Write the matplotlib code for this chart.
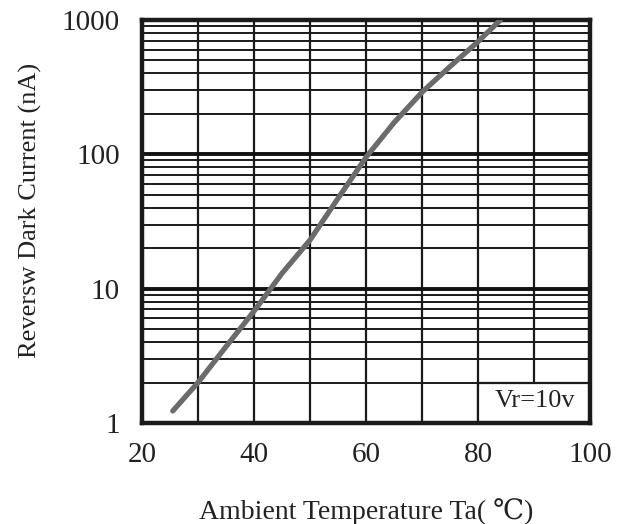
import matplotlib
matplotlib.use('Agg')
from matplotlib import pyplot as plt
from matplotlib.patches import Rectangle

# curve
temp = [25.5, 30, 35, 40, 45, 50, 55, 60, 65, 70, 75, 80, 84]
dark_current = [1.23, 2.0, 3.7, 6.8, 13, 23, 47, 95, 172, 290, 450, 690, 1000]

x_ticks = [20, 40, 60, 80, 100]
y_ticks = [1, 10, 100, 1000]
y_labels = ['1', '10', '100', '1000']

serif = ['Liberation Serif', 'DejaVu Serif', 'Noto Sans CJK SC']
plt.rcParams['font.family'] = serif

fig = plt.figure(figsize=(6.17, 5.24), dpi=100)
ax = fig.add_axes([0.2301, 0.1927, 0.7261, 0.7691])
ax.set_yscale('log')
ax.set_xlim(20, 100)
ax.set_ylim(1, 1000)

# grid: every 10 degC, every 1..9 per decade
for xv in range(30, 100, 10):
    if xv == 90:
        ax.plot([xv, xv], [2, 1000], color='#1a1a1a', lw=1.6, zorder=1)
    else:
        ax.plot([xv, xv], [1, 1000], color='#1a1a1a', lw=1.6, zorder=1)
for dec in [1, 10, 100]:
    for m in range(2, 10):
        ax.axhline(dec * m, color='#1a1a1a', lw=1.4, zorder=1)
for dec in [10, 100]:
    ax.axhline(dec, color='#111111', lw=2.8, zorder=1)

ax.plot(temp, dark_current, color='#6b6b6b', lw=3.8, solid_capstyle='round',
        solid_joinstyle='round', zorder=3)

# label box in the corner
ax.add_patch(Rectangle((80, 1), 20, 1, facecolor='white', edgecolor='#1a1a1a',
                       lw=1.6, zorder=2))
ax.text(97.3, 1.45, 'Vr=10v', ha='right', va='center', fontsize=19, color='#222222', zorder=4)

ax.set_xticks(x_ticks)
ax.set_yticks(y_ticks)
ax.set_yticklabels(y_labels)
ax.minorticks_off()
ax.tick_params(length=0, labelsize=21, colors='#222222')
ax.tick_params(axis='y', pad=16)
ax.tick_params(axis='x', pad=14)
for s in ax.spines.values():
    s.set_linewidth(3.2)
    s.set_color('#1a1a1a')

ax.set_xlabel('Ambient Temperature Ta( ℃)', fontsize=20, labelpad=21, color='#222222')
ax.set_ylabel('Reversw Dark Current (nA)', fontsize=19, labelpad=14, color='#222222')
ax.yaxis.label.set_y(0.527)

plt.savefig('out.png', dpi=100)
